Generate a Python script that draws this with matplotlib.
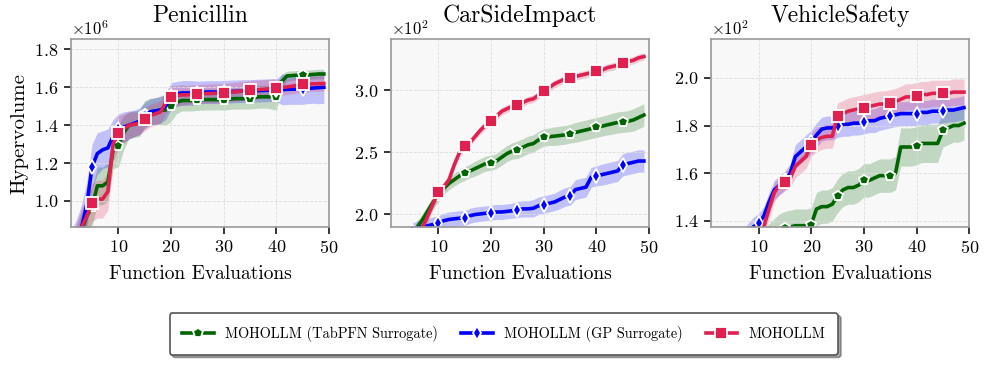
import matplotlib
matplotlib.use("Agg")
import matplotlib.pyplot as plt
import numpy as np

plt.rcParams['font.family'] = 'serif'
plt.rcParams['font.serif'] = ['cmr10']
plt.rcParams['mathtext.fontset'] = 'cm'
plt.rcParams['axes.unicode_minus'] = False
plt.rcParams['axes.formatter.use_mathtext'] = True

evals = np.arange(1, 50)

# ---- Penicillin (x1e6) ----
pen_tab = [0.70, 0.76, 0.84, 0.92, 0.97, 1.08, 1.08, 1.10, 1.27, 1.29,
           1.36, 1.40, 1.405, 1.41, 1.46, 1.47, 1.475, 1.48, 1.48, 1.50,
           1.52, 1.53, 1.53, 1.53, 1.533, 1.535, 1.535, 1.535, 1.535, 1.535,
           1.537, 1.54, 1.54, 1.54, 1.54, 1.548, 1.55, 1.55, 1.55, 1.55,
           1.63, 1.66, 1.662, 1.664, 1.665, 1.666, 1.668, 1.67, 1.67]
pen_tab_sd = [0.10, 0.10, 0.10, 0.10, 0.10, 0.10, 0.10, 0.10, 0.10, 0.11,
              0.09, 0.07, 0.07, 0.07, 0.07, 0.07, 0.07, 0.075, 0.08, 0.08,
              0.06, 0.055, 0.055, 0.055, 0.055, 0.055, 0.055, 0.055, 0.055, 0.055,
              0.055, 0.055, 0.055, 0.055, 0.055, 0.06, 0.06, 0.06, 0.065, 0.07,
              0.04, 0.025, 0.025, 0.025, 0.025, 0.025, 0.025, 0.025, 0.025]
pen_gp = [0.72, 0.78, 0.86, 0.98, 1.18, 1.25, 1.27, 1.28, 1.34, 1.38,
          1.39, 1.40, 1.41, 1.42, 1.45, 1.47, 1.475, 1.48, 1.50, 1.555,
          1.565, 1.57, 1.57, 1.57, 1.572, 1.574, 1.575, 1.575, 1.575, 1.576,
          1.577, 1.578, 1.579, 1.58, 1.58, 1.582, 1.583, 1.584, 1.585, 1.585,
          1.588, 1.589, 1.59, 1.59, 1.59, 1.594, 1.596, 1.598, 1.60]
pen_gp_sd = [0.12, 0.12, 0.12, 0.12, 0.12, 0.11, 0.10, 0.10, 0.09, 0.08,
             0.08, 0.075, 0.07, 0.07, 0.07, 0.07, 0.07, 0.07, 0.07, 0.07,
             0.065, 0.065, 0.065, 0.065, 0.06, 0.06, 0.06, 0.06, 0.06, 0.06,
             0.06, 0.06, 0.06, 0.06, 0.06, 0.06, 0.06, 0.06, 0.06, 0.06,
             0.08, 0.08, 0.08, 0.08, 0.08, 0.08, 0.08, 0.085, 0.085]
pen_llm = [0.70, 0.78, 0.86, 0.92, 0.99, 1.01, 1.01, 1.05, 1.30, 1.36,
           1.38, 1.40, 1.405, 1.41, 1.43, 1.45, 1.46, 1.47, 1.52, 1.55,
           1.555, 1.56, 1.56, 1.562, 1.565, 1.566, 1.567, 1.568, 1.569, 1.57,
           1.573, 1.576, 1.579, 1.582, 1.585, 1.587, 1.589, 1.591, 1.593, 1.595,
           1.598, 1.602, 1.606, 1.61, 1.615, 1.617, 1.618, 1.619, 1.62]
pen_llm_sd = [0.10, 0.10, 0.10, 0.10, 0.10, 0.10, 0.10, 0.10, 0.09, 0.09,
              0.08, 0.07, 0.065, 0.06, 0.06, 0.06, 0.06, 0.06, 0.06, 0.06,
              0.055, 0.055, 0.05, 0.05, 0.05, 0.05, 0.05, 0.05, 0.05, 0.05,
              0.05, 0.05, 0.05, 0.05, 0.05, 0.05, 0.05, 0.05, 0.05, 0.05,
              0.04, 0.04, 0.04, 0.04, 0.04, 0.04, 0.04, 0.04, 0.04]

# ---- CarSideImpact ----
car_tab = [150, 160, 168, 175, 182, 190, 196, 203, 210, 215,
           221, 225, 228, 231, 233, 235, 237, 239, 241, 241.5,
           243, 246, 249, 251, 252, 254, 256, 257, 260, 262,
           262.5, 263, 263.5, 264, 265, 266, 267, 268, 269, 270,
           271, 272, 273, 274, 274.5, 275, 276, 278, 280]
car_tab_sd = [5, 5, 5, 5, 5, 5, 5, 5, 5, 5,
              5, 5, 5, 5.5, 5.5, 5.5, 6, 6, 6, 6,
              6, 6.5, 6.5, 6.5, 7, 7, 7, 7, 7, 7,
              7, 7.5, 7.5, 7.5, 7.5, 8, 8, 8, 8, 8,
              8, 8, 8.5, 8.5, 8.5, 8.5, 9, 9, 9]
car_gp = [170, 175, 180, 184, 187, 189, 190, 191, 192, 193,
          195, 196, 196.5, 197, 197, 199, 200, 200.5, 201, 201.5,
          202, 202, 202.5, 203, 204, 204.5, 204.5, 205, 207, 208,
          209, 210, 212, 214, 215, 220, 221, 222, 230, 231,
          232, 233, 234, 235, 240, 241, 242, 243, 243]
car_gp_sd = [6, 6, 6, 6, 6, 6, 6, 6, 6, 6,
             6, 6, 6, 6, 6, 6, 6, 6, 6, 6,
             6, 6, 6, 6, 6.5, 6.5, 6.5, 7, 7, 7,
             7, 7, 7.5, 7.5, 7.5, 8, 8, 8, 8, 8,
             8.5, 8.5, 8.5, 8.5, 9, 9, 9, 9, 9]
car_llm = [140, 150, 160, 168, 175, 182, 190, 199, 209, 218,
           222, 228, 240, 250, 255, 258, 263, 268, 272, 275,
           279, 283, 285, 287, 288, 290, 292, 293, 296, 299,
           302, 305, 307, 309, 310, 311, 312, 313, 314, 315,
           316, 318, 319, 320, 322, 323, 324, 326, 327]
car_llm_sd = [5, 5, 5, 5, 5, 5, 5, 5, 4.5, 4,
              4, 4, 3.5, 3.5, 3.5, 3, 3, 3, 3, 3,
              3, 3, 3, 3, 3, 3, 3, 3, 3, 3,
              3, 3, 3, 3, 3, 3, 3, 3, 3, 3,
              3, 3, 3, 3, 3, 3, 3, 3, 3]

# ---- VehicleSafety ----
veh_tab = [110, 112, 114, 116, 118, 120, 122, 124, 126, 128,
           130, 132, 134, 136, 137, 137.5, 138, 138, 138, 138.5,
           145, 146, 146, 147, 150.5, 153, 154, 154, 155, 157,
           157, 158, 159, 159, 159, 160, 171, 171, 171, 171.5,
           172.5, 172.5, 172.5, 172.5, 178, 179, 180, 180, 181]
veh_tab_sd = [7, 7, 7, 7, 7, 7, 7, 7, 7, 7,
              7, 7, 7, 7, 7, 7, 7, 7, 7, 7,
              7, 7, 7, 7, 7, 7, 7, 7, 7, 7,
              7, 7, 7, 7, 7, 7, 8, 8, 8, 8,
              8, 8, 8, 8, 7, 7, 7, 7, 7]
veh_gp = [120, 122, 124, 126, 128, 130, 132, 135, 137.5, 139,
          142, 148, 153, 155, 157, 160, 167, 169, 171, 173,
          176, 178.5, 179, 179, 180, 180.5, 180.5, 181, 181, 181.5,
          182, 182, 183, 183.5, 184, 184.5, 185, 185, 185, 185,
          185.5, 185.5, 186, 186, 186, 186.5, 186.5, 187, 187.5]
veh_gp_sd = [4, 4, 4, 4, 4, 4, 4, 4, 4, 4,
             4, 4, 4, 4, 4, 4, 5, 5, 5, 5,
             5, 5, 5, 5, 5, 5, 5, 5, 5, 5,
             5, 5, 5, 5, 5, 5, 5, 5, 5, 5,
             5, 5, 5, 5, 5, 5, 5, 5, 5]
veh_llm = [115, 117, 119, 121, 123, 125, 127, 129, 131, 133,
           137.5, 145, 152, 155, 156.5, 158, 163, 165, 167, 172,
           174, 175, 175.5, 175.5, 184, 185, 186, 186.5, 187, 187.5,
           188, 188.5, 189, 189, 189.5, 190, 191, 192, 192, 192.5,
           193, 193, 193.5, 193.5, 193.5, 193.5, 194, 194, 194]
veh_llm_sd = [4, 4, 4, 4, 4, 4, 4, 4, 4, 4,
              4, 4, 4, 4, 4, 4, 5, 5, 5, 5,
              5, 5, 5, 5, 5.5, 5.5, 5.5, 5.5, 5.5, 5.5,
              5.5, 5.5, 5.5, 5.5, 5.5, 5.5, 5.5, 5.5, 5.5, 5.5,
              5.5, 5.5, 5.5, 5.5, 5.5, 5.5, 5.5, 5.5, 5.5]

problems = [
    ("Penicillin", 1e6, (0.863e6, 1.854e6), [1.0e6, 1.2e6, 1.4e6, 1.6e6, 1.8e6],
     [pen_tab, pen_gp, pen_llm], [pen_tab_sd, pen_gp_sd, pen_llm_sd]),
    ("CarSideImpact", 1, (190, 341), [200, 250, 300],
     [car_tab, car_gp, car_llm], [car_tab_sd, car_gp_sd, car_llm_sd]),
    ("VehicleSafety", 1, (137.5, 216.2), [140, 160, 180, 200],
     [veh_tab, veh_gp, veh_llm], [veh_tab_sd, veh_gp_sd, veh_llm_sd]),
]

labels = ["MOHOLLM (TabPFN Surrogate)", "MOHOLLM (GP Surrogate)", "MOHOLLM"]
colors = ["#006400", "#0000ff", "#e0204f"]
markers = ["p", "d", "s"]
msizes = [7.5, 7.5, 8.5]

fig, axes = plt.subplots(1, 3, figsize=(9.86, 3.66), dpi=100)
fig.subplots_adjust(left=0.072, right=0.983, top=0.893, bottom=0.380, wspace=0.24)

for ax, (title, scale, ylim, yticks, means, sds) in zip(axes, problems):
    ax.set_facecolor("#f8f8f8")
    for mean, sd, lab, c, mk, ms in zip(means, sds, labels, colors, markers, msizes):
        mean = np.array(mean) * scale
        sd = np.array(sd) * scale
        ax.fill_between(evals, mean - sd, mean + sd, color=c, alpha=0.22, lw=0)
        ax.plot(evals, mean, color=c, lw=2.6, marker=mk, ms=ms,
                markevery=slice(4, None, 5), markeredgecolor="white",
                markeredgewidth=1.3, label=lab)
    ax.set_xlim(1, 50)
    ax.set_ylim(*ylim)
    ax.set_xticks([10, 20, 30, 40, 50])
    ax.set_yticks(yticks)
    ax.ticklabel_format(axis="y", style="sci", scilimits=(0, 0), useMathText=True)
    ax.yaxis.get_offset_text().set_fontsize(12)
    ax.tick_params(labelsize=13, direction="out", length=5, width=1.1, pad=4)
    ax.grid(True, ls="--", lw=0.6, color="#dddddd")
    for sp in ax.spines.values():
        sp.set_color("#999999")
        sp.set_linewidth(1.2)
    ax.set_title(title, fontsize=17, pad=12)
    ax.set_xlabel("Function Evaluations", fontsize=14, labelpad=6)

axes[0].set_ylabel("Hypervolume", fontsize=15)

handles, labs = axes[0].get_legend_handles_labels()
leg = fig.legend(handles, labs, loc="center", bbox_to_anchor=(0.511, 0.088), ncol=3,
                 fontsize=10.3, frameon=True, shadow=True, fancybox=True,
                 handlelength=2.2, columnspacing=1.6, borderpad=0.9)
leg.get_frame().set_edgecolor("#555555")
leg.get_frame().set_linewidth(1.2)

fig.savefig("out.png", dpi=100)
